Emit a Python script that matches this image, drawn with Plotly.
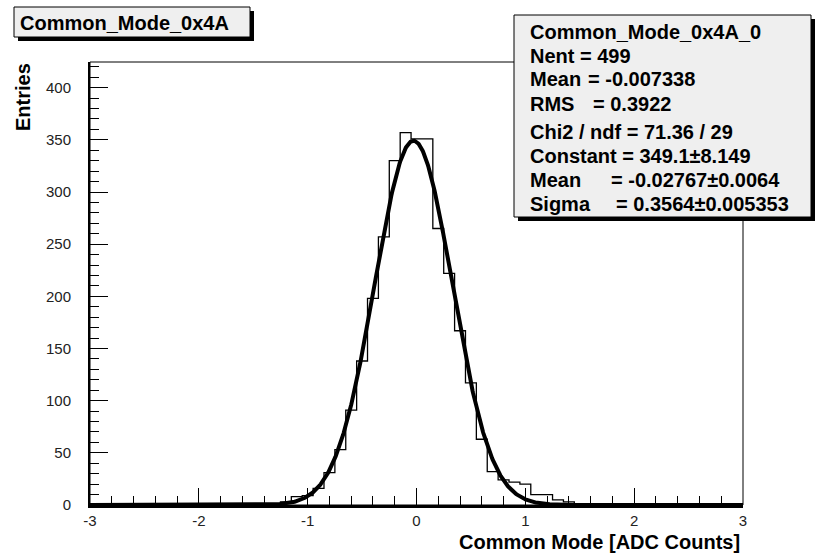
import numpy as np
import plotly.graph_objects as go

# ---------------- data ----------------
hist_title = "Common_Mode_0x4A"
stats_name = "Common_Mode_0x4A_0"
x_title = "Common Mode [ADC Counts]"
y_title = "Entries"

# bin centres -3.0 ... 3.0 (bin width 0.1)
bin_centers = [round(-3.0 + 0.1 * i, 1) for i in range(61)]
counts = [
    0, 0, 0, 0, 0, 0, 0, 0, 0, 0,        # -3.0 .. -2.1
    0, 0, 0, 0, 0, 0, 0, 1, 3, 8,        # -2.0 .. -1.1
    9, 16, 31, 53, 91, 138, 198, 257, 330, 357,   # -1.0 .. -0.1
    351, 351, 265, 222, 167, 117, 63, 32, 24, 22,  # 0.0 .. 0.9
    20, 10, 10, 5, 3, 0, 0, 0, 0, 0,     # 1.0 .. 1.9
    0, 0, 0, 0, 0, 0, 0, 0, 0, 0,        # 2.0 .. 2.9
    0,                                   # 3.0
]

# stats box
stat_labels = ["Nent", "Mean", "RMS"]
stat_values = ["499", "-0.007338", "0.3922"]
chi2_text = "Chi2 / ndf = 71.36 / 29"
fit_labels = ["Constant", "Mean", "Sigma"]
fit_values = [349.1, -0.02767, 0.3564]
fit_errors = ["8.149", "0.0064", "0.005353"]
fit_value_text = ["349.1", "-0.02767", "0.3564"]

x_ticks = [-3, -2, -1, 0, 1, 2, 3]
y_ticks = [0, 50, 100, 150, 200, 250, 300, 350, 400]

# gaussian fit curve from the fitted parameters
fit_x = np.linspace(-3, 3, 1201)
A, mu, sig = fit_values
fit_y = A * np.exp(-0.5 * ((fit_x - mu) / sig) ** 2)

# ---------------- layout geometry (pixels) ----------------
W_FIG, H_FIG = 820, 553
L, R, T, B = 90, 743, 62, 505
PW, PH = R - L, B - T


def px(xp):
    return (xp - L) / PW


def py(yp):
    return (B - yp) / PH


FONT = "Liberation Sans, Arial, Helvetica, sans-serif"

fig = go.Figure()

fig.add_trace(go.Scatter(
    x=bin_centers, y=counts, mode="lines",
    line=dict(shape="hvh", color="black", width=1.3),
    hoverinfo="skip", showlegend=False,
))
fig.add_trace(go.Scatter(
    x=fit_x, y=fit_y, mode="lines",
    line=dict(color="black", width=4),
    hoverinfo="skip", showlegend=False,
))

shapes = []
# plot frame (thin)
shapes.append(dict(type="rect", xref="paper", yref="paper", x0=0, x1=1, y0=0, y1=1,
                   line=dict(color="black", width=1), layer="above"))


def box(x0, y0, x1, y1, sh=4):
    out = []
    out.append(dict(type="rect", xref="paper", yref="paper",
                    x0=px(x0 + sh), x1=px(x1 + sh), y0=py(y1 + sh), y1=py(y0 + sh),
                    line=dict(width=0), fillcolor="black", layer="above"))
    out.append(dict(type="rect", xref="paper", yref="paper",
                    x0=px(x0), x1=px(x1), y0=py(y1), y1=py(y0),
                    line=dict(color="black", width=1), fillcolor="#efefef", layer="above"))
    return out


shapes += box(14, 7, 250, 37)
shapes += box(514, 15, 811, 217)

annotations = []


def txt(s, xp, yp, size=20, xanchor="left", yanchor="middle", angle=0):
    annotations.append(dict(
        text=s, x=px(xp), y=py(yp), xref="paper", yref="paper",
        xanchor=xanchor, yanchor=yanchor, showarrow=False, textangle=angle,
        font=dict(family=FONT, size=size, color="black", weight="bold"),
    ))


txt(hist_title, 18, 22.5)

# stats box lines
lx = 528
txt(stats_name, lx, 31.5)
txt(f"{stat_labels[0]} = {stat_values[0]}", lx, 55.5)
txt(stat_labels[1], lx, 79.5)
txt(f"= {stat_values[1]}", 586, 79.5)
txt(stat_labels[2], lx, 104)
txt(f"= {stat_values[2]}", 591, 104)
txt(chi2_text, lx, 131.5)
txt(f"{fit_labels[0]} = {fit_value_text[0]}\u00b1{fit_errors[0]}", lx, 155.5)
txt(fit_labels[1], lx, 180)
txt(f"= {fit_value_text[1]}\u00b1{fit_errors[1]}", 609, 180)
txt(fit_labels[2], lx, 204)
txt(f"= {fit_value_text[2]}\u00b1{fit_errors[2]}", 614, 204)

# axis titles
txt(x_title, 742, 542, size=20, xanchor="right")
txt(y_title, 23, 61, size=20, xanchor="center", yanchor="top", angle=-90)

tickfont = dict(family=FONT, size=15, color="#222")

fig.update_layout(
    width=W_FIG, height=H_FIG,
    margin=dict(l=L, r=W_FIG - R, t=T, b=H_FIG - B, pad=0),
    paper_bgcolor="white", plot_bgcolor="white",
    showlegend=False,
    shapes=shapes, annotations=annotations,
    xaxis=dict(
        range=[-3, 3], tickvals=x_ticks, ticktext=[str(v) for v in x_ticks],
        ticks="inside", ticklen=17, tickwidth=1, tickcolor="black",
        minor=dict(dtick=0.2, tick0=0, ticks="inside", ticklen=9, tickwidth=1, tickcolor="black", showgrid=False),
        showgrid=False, zeroline=False, showline=True, linecolor="black", linewidth=3,
        tickfont=tickfont, ticklabelstandoff=0, fixedrange=True,
    ),
    yaxis=dict(
        range=[0, 424.6], tickvals=y_ticks, ticktext=[str(v) for v in y_ticks],
        ticks="inside", ticklen=18, tickwidth=1, tickcolor="black",
        minor=dict(dtick=10, tick0=0, ticks="inside", ticklen=9, tickwidth=1, tickcolor="black", showgrid=False),
        showgrid=False, zeroline=False, showline=True, linecolor="black", linewidth=2,
        tickfont=tickfont, ticklabelstandoff=14, fixedrange=True,
    ),
)

fig.write_html("out.html")
